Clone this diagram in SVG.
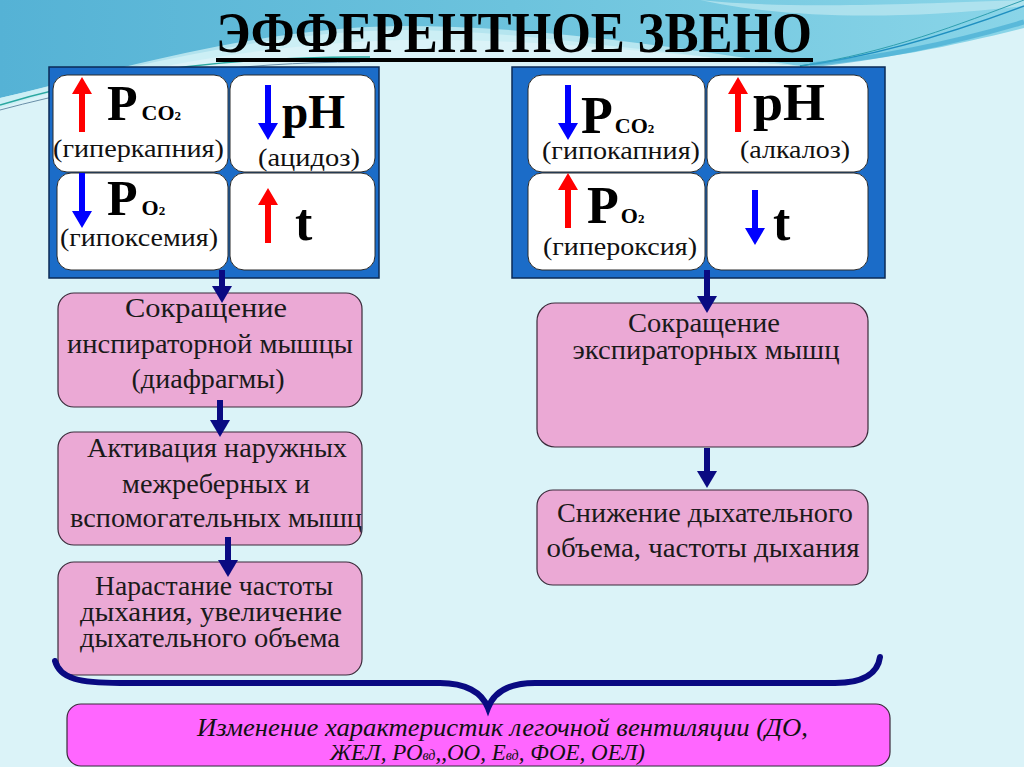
<svg xmlns="http://www.w3.org/2000/svg" width="1024" height="767" viewBox="0 0 1024 767" font-family="Liberation Serif, Times New Roman, serif">
<style>
.cell{fill:#ffffff;stroke:#2a2a2a;stroke-width:1}
.panel{fill:#1b6cc8;stroke:#0b2a55;stroke-width:1.5}
.pink{fill:#eba9d5;stroke:#3a2a3a;stroke-width:1.2}
.big{font-weight:bold;fill:#000}
.lbl{font-size:26px;fill:#111}
.ptx{font-size:28px;fill:#1a1a1a;text-anchor:middle}
.itx{font-style:italic;fill:#111}
.conn{stroke:#0a0a82;stroke-width:6;fill:none}
.red{fill:#ff0000}
.blue{fill:#0000ff}
</style>
<defs>
<linearGradient id="sky" x1="0" y1="0" x2="1" y2="0">
<stop offset="0" stop-color="#55b2d5"/>
<stop offset="0.5" stop-color="#6cc3dd"/>
<stop offset="1" stop-color="#8ad5e8"/>
</linearGradient>
<path id="up" d="M0,0 L10,17 L3,17 L3,55 L-3,55 L-3,17 L-10,17 Z"/>
<path id="down" d="M0,0 L10,-17 L3,-17 L3,-55 L-3,-55 L-3,-17 L-10,-17 Z"/>
<marker id="ah" markerUnits="userSpaceOnUse" markerWidth="18" markerHeight="20" refX="1" refY="10" orient="auto" viewBox="0 0 18 20">
<path d="M0,0 L17,10 L0,20 Z" fill="#0a0a82"/>
</marker>
</defs>

<g id="background">
<rect x="0" y="0" width="1024" height="767" fill="#dbf3f8"/>
<path d="M0,0 L1024,0 L1024,28 C960,44 880,62 800,66 C640,52 520,30 400,30 C260,32 120,70 0,98 Z" fill="url(#sky)"/>
<path d="M0,108 C120,70 260,44 400,40 C560,38 700,58 800,66 C680,48 540,26 400,26 C250,28 110,72 0,98 Z" fill="#c8edf4" opacity="0.8"/>
<path d="M0,105 C110,72 230,56 370,57" stroke="#2aa8a0" stroke-width="1.5" fill="none"/>
<path d="M0,110 C120,78 240,62 360,62" stroke="#6a8fa8" stroke-width="1" fill="none"/>
<path d="M700,0 C780,8 860,6 1024,0 L1024,6 C900,20 800,18 720,4 Z" fill="#bfe8f1" opacity="0.7"/>
<path d="M800,66 C880,56 960,30 1024,6" stroke="#1f8fc0" stroke-width="1.5" fill="none"/>
<path d="M800,66 C890,52 960,24 1024,0" stroke="#2f9fb0" stroke-width="1" fill="none"/>
<path d="M810,65 C900,56 970,38 1024,22" stroke="#3aa6d0" stroke-width="5" fill="none" opacity="0.6"/>
</g>

<g id="title">
<text x="216" y="52" class="big" font-size="58" textLength="596" lengthAdjust="spacingAndGlyphs">ЭФФЕРЕНТНОЕ ЗВЕНО</text>
<rect x="216" y="58" width="597" height="4" fill="#000"/>
</g>

<g id="left-panel">
<rect class="panel" x="49" y="67" width="330" height="211"/>
<rect class="cell" x="53" y="75" width="175" height="97" rx="14"/>
<rect class="cell" x="230" y="75" width="145" height="97" rx="14"/>
<rect class="cell" x="57" y="173" width="171" height="97" rx="14"/>
<rect class="cell" x="230" y="173" width="145" height="97" rx="14"/>
<use href="#up" x="82" y="77" class="red"/>
<text x="107" y="120" class="big"><tspan font-size="50">P</tspan><tspan font-size="22" dx="4">CO</tspan><tspan font-size="13">2</tspan></text>
<text x="53" y="157" class="lbl" textLength="171" lengthAdjust="spacingAndGlyphs">(гиперкапния)</text>
<use href="#down" x="268" y="140" class="blue"/>
<text x="282" y="128" class="big" font-size="48" textLength="63" lengthAdjust="spacingAndGlyphs">pH</text>
<text x="258" y="166" class="lbl" textLength="102" lengthAdjust="spacingAndGlyphs">(ацидоз)</text>
<use href="#down" x="82" y="228" class="blue"/>
<text x="107" y="215" class="big"><tspan font-size="50">P</tspan><tspan font-size="22" dx="4">O</tspan><tspan font-size="13">2</tspan></text>
<text x="60" y="246" class="lbl" textLength="158" lengthAdjust="spacingAndGlyphs">(гипоксемия)</text>
<use href="#up" x="268" y="188" class="red"/>
<text x="295" y="240" class="big" font-size="52">t</text>
</g>

<g id="right-panel">
<rect class="panel" x="512" y="67" width="373" height="211"/>
<rect class="cell" x="528" y="75" width="177" height="97" rx="14"/>
<rect class="cell" x="707" y="75" width="161" height="97" rx="14"/>
<rect class="cell" x="528" y="173" width="177" height="97" rx="14"/>
<rect class="cell" x="707" y="173" width="161" height="97" rx="14"/>
<use href="#down" x="568" y="140" class="blue"/>
<text x="581" y="133" class="big"><tspan font-size="52">P</tspan><tspan font-size="22" dx="2">CO</tspan><tspan font-size="13">2</tspan></text>
<text x="542" y="159" class="lbl" textLength="158" lengthAdjust="spacingAndGlyphs">(гипокапния)</text>
<use href="#up" x="738" y="77" class="red"/>
<text x="753" y="120" class="big" font-size="52" textLength="72" lengthAdjust="spacingAndGlyphs">pH</text>
<text x="740" y="158" class="lbl" textLength="110" lengthAdjust="spacingAndGlyphs">(алкалоз)</text>
<use href="#up" x="568" y="173" class="red"/>
<text x="587" y="223" class="big"><tspan font-size="52">P</tspan><tspan font-size="22" dx="2">O</tspan><tspan font-size="13">2</tspan></text>
<text x="543" y="255" class="lbl" textLength="154" lengthAdjust="spacingAndGlyphs">(гипероксия)</text>
<use href="#down" x="755" y="245" class="blue"/>
<text x="773" y="240" class="big" font-size="52">t</text>
</g>

<g id="inspiratory">
<rect class="pink" x="58" y="293" width="304" height="114" rx="16"/>
<text class="ptx" x="206" y="317" textLength="162" lengthAdjust="spacingAndGlyphs">Сокращение</text>
<text class="ptx" x="210" y="353" textLength="286" lengthAdjust="spacingAndGlyphs">инспираторной мышцы</text>
<text class="ptx" x="208" y="388" textLength="153" lengthAdjust="spacingAndGlyphs">(диафрагмы)</text>
</g>

<g id="intercostal">
<rect class="pink" x="58" y="432" width="304" height="113" rx="16"/>
<text class="ptx" x="217" y="457" textLength="260" lengthAdjust="spacingAndGlyphs">Активация наружных</text>
<text class="ptx" x="216" y="493" textLength="188" lengthAdjust="spacingAndGlyphs">межреберных и</text>
<text class="ptx" x="216" y="527" textLength="292" lengthAdjust="spacingAndGlyphs">вспомогательных мышц</text>
</g>

<g id="frequency-up">
<rect class="pink" x="58" y="562" width="304" height="113" rx="16"/>
<text class="ptx" x="214" y="595" textLength="238" lengthAdjust="spacingAndGlyphs">Нарастание частоты</text>
<text class="ptx" x="211" y="621" textLength="262" lengthAdjust="spacingAndGlyphs">дыхания, увеличение</text>
<text class="ptx" x="210" y="647" textLength="260" lengthAdjust="spacingAndGlyphs">дыхательного объема</text>
</g>

<g id="expiratory">
<rect class="pink" x="537" y="303" width="331" height="144" rx="18"/>
<text class="ptx" x="704" y="332" textLength="152" lengthAdjust="spacingAndGlyphs">Сокращение</text>
<text class="ptx" x="706" y="359" textLength="267" lengthAdjust="spacingAndGlyphs">экспираторных мышц</text>
</g>

<g id="volume-down">
<rect class="pink" x="537" y="490" width="331" height="95" rx="16"/>
<text class="ptx" x="705" y="522" textLength="296" lengthAdjust="spacingAndGlyphs">Снижение дыхательного</text>
<text class="ptx" x="703" y="557" textLength="313" lengthAdjust="spacingAndGlyphs">объема, частоты дыхания</text>
</g>

<g id="result">
<rect x="67" y="704" width="823" height="62" rx="14" fill="#ff66ff" stroke="#3a2a3a" stroke-width="1.2"/>
<text x="197" y="736" class="itx" font-size="25" textLength="611" lengthAdjust="spacingAndGlyphs">Изменение характеристик легочной вентиляции (ДО,</text>
<text x="330" y="760" class="itx" font-size="23">ЖЕЛ, РО<tspan font-size="14">вд</tspan>,,ОО, Е<tspan font-size="14">вд</tspan>, ФОЕ, ОЕЛ)</text>
</g>

<g id="connectors">
<line class="conn" x1="222" y1="270" x2="222" y2="287" marker-end="url(#ah)"/>
<line class="conn" x1="220" y1="400" x2="220" y2="421" marker-end="url(#ah)"/>
<line class="conn" x1="228" y1="537" x2="228" y2="561" marker-end="url(#ah)"/>
<line class="conn" x1="707" y1="270" x2="707" y2="297" marker-end="url(#ah)"/>
<line class="conn" x1="707" y1="448" x2="707" y2="472" marker-end="url(#ah)"/>
<path class="conn" stroke-width="8" stroke-linecap="round" d="M55,661 C60,679 80,683 120,683 L440,683 C465,683 482,692 488,708 C494,692 510,683 535,683 L835,683 C865,683 878,672 880,657"/>
</g>
</svg>
